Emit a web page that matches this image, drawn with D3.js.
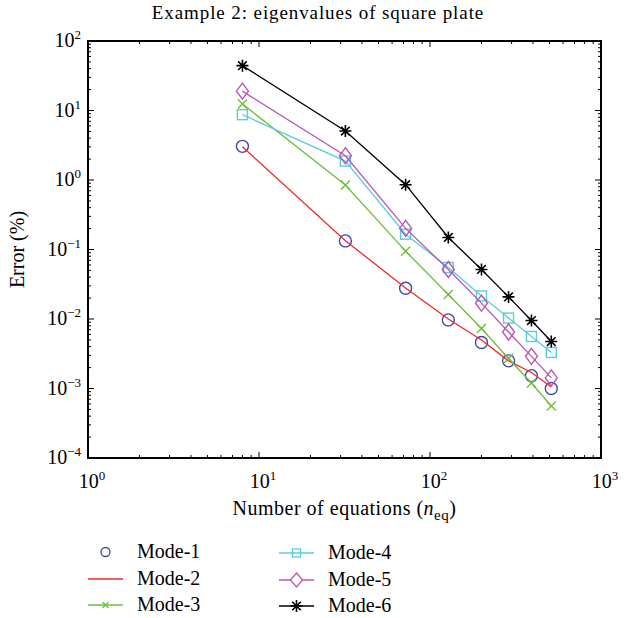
<!DOCTYPE html>
<html><head><meta charset="utf-8">
<script src="https://cdn.jsdelivr.net/npm/d3@7"></script>
<style>body{margin:0;background:#fff}</style>
</head><body>
<svg id="c" width="633" height="618"></svg>
<script>
const neq = [8, 32, 72, 128, 200, 288, 392, 512];
const mode1 = [3.05, 0.133, 0.0277, 0.0097, 0.0046, 0.0025, 0.00153, 0.00100];
const mode2 = [3.0, 0.134, 0.028, 0.0100, 0.0050, 0.0025, 0.0017, 0.00105];
const mode3 = [12.4, 0.845, 0.0946, 0.0225, 0.0073, 0.0027, 0.0012, 0.00056];
const mode4 = [8.7, 1.87, 0.166, 0.055, 0.0215, 0.0103, 0.0056, 0.0033];
const mode5 = [19.0, 2.23, 0.201, 0.0516, 0.0169, 0.0065, 0.0029, 0.00142];
const mode6 = [44.2, 5.06, 0.856, 0.149, 0.0516, 0.0208, 0.0095, 0.00474];
const xTickExp = [0, 1, 2, 3];
const yTickExp = [-4, -3, -2, -1, 0, 1, 2];
const seriesNames = ["Mode-1","Mode-2","Mode-3","Mode-4","Mode-5","Mode-6"];

const series = [
  {name: seriesNames[0], vals: mode1, color: "#3b4aa8", line: false, marker: "circle"},
  {name: seriesNames[1], vals: mode2, color: "#f02a2a", line: true, marker: null},
  {name: seriesNames[2], vals: mode3, color: "#6cbf3a", line: true, marker: "x"},
  {name: seriesNames[3], vals: mode4, color: "#5ecbdb", line: true, marker: "square"},
  {name: seriesNames[4], vals: mode5, color: "#b657b6", line: true, marker: "diamond"},
  {name: seriesNames[5], vals: mode6, color: "#000000", line: true, marker: "star"}
];

const L = 88, R = 601, T = 41, B = 458;
const svg = d3.select("#c");
const FONT = "Liberation Serif, DejaVu Serif, serif";

const x = d3.scaleLog().domain([1, 1000]).range([L, R]);
const y = d3.scaleLog().domain([1e-4, 100]).range([B, T]);

// ticks
const g = svg.append("g");
function minorList(lo, hi) {
  const out = [];
  for (let e = lo; e < hi; e++) for (let m = 2; m <= 9; m++) out.push(m * Math.pow(10, e));
  return out;
}
const xMajor = xTickExp.map(e => Math.pow(10, e));
const yMajor = yTickExp.map(e => Math.pow(10, e));
const xMinor = minorList(0, 3), yMinor = minorList(-4, 2);
const tk = g.append("g").attr("stroke", "#000").attr("stroke-width", 1);
xMajor.forEach(v => {
  tk.append("line").attr("x1", x(v)).attr("x2", x(v)).attr("y1", B).attr("y2", B - 6);
  tk.append("line").attr("x1", x(v)).attr("x2", x(v)).attr("y1", T).attr("y2", T + 6);
});
xMinor.forEach(v => {
  tk.append("line").attr("x1", x(v)).attr("x2", x(v)).attr("y1", B).attr("y2", B - 3);
  tk.append("line").attr("x1", x(v)).attr("x2", x(v)).attr("y1", T).attr("y2", T + 3);
});
yMajor.forEach(v => {
  tk.append("line").attr("y1", y(v)).attr("y2", y(v)).attr("x1", L).attr("x2", L + 6);
  tk.append("line").attr("y1", y(v)).attr("y2", y(v)).attr("x1", R).attr("x2", R - 6);
});
yMinor.forEach(v => {
  tk.append("line").attr("y1", y(v)).attr("y2", y(v)).attr("x1", L).attr("x2", L + 3);
  tk.append("line").attr("y1", y(v)).attr("y2", y(v)).attr("x1", R).attr("x2", R - 3);
});
svg.append("rect").attr("x", L).attr("y", T).attr("width", R - L).attr("height", B - T)
  .attr("fill", "none").attr("stroke", "#000").attr("stroke-width", 2);

// tick labels
function expLabel(sel, e) {
  sel.append("tspan").text("10");
  sel.append("tspan").attr("dy", -8).attr("font-size", 13).text(e < 0 ? "\u2212" + (-e) : String(e));
}
xTickExp.forEach(e => {
  const t = svg.append("text").attr("x", x(Math.pow(10, e)) + 4).attr("y", 488)
    .attr("text-anchor", "middle").attr("font-family", FONT).attr("font-size", 20);
  expLabel(t, e);
});
yTickExp.forEach(e => {
  const t = svg.append("text").attr("x", 81).attr("y", y(Math.pow(10, e)) + 6)
    .attr("text-anchor", "end").attr("font-family", FONT).attr("font-size", 20);
  expLabel(t, e);
});

// title & axis labels
svg.append("text").attr("x", 318).attr("y", 19).attr("text-anchor", "middle")
  .attr("font-family", FONT).attr("font-size", 19).attr("letter-spacing", 0.9)
  .text("Example 2: eigenvalues of square plate");
svg.append("text").attr("transform", `translate(24,${(T + B) / 2}) rotate(-90)`)
  .attr("text-anchor", "middle").attr("font-family", FONT).attr("font-size", 20).text("Error (%)");
const xl = svg.append("text").attr("x", (L + R) / 2).attr("y", 515).attr("text-anchor", "middle")
  .attr("font-family", FONT).attr("font-size", 20).attr("letter-spacing", 0.5);
xl.append("tspan").text("Number of equations (");
xl.append("tspan").attr("font-style", "italic").text("n");
xl.append("tspan").attr("dy", 5).attr("font-size", 15).text("eq");
xl.append("tspan").attr("dy", -5).text(")");

// markers
function drawMarker(sel, type, cx, cy, color) {
  if (type === "circle") {
    sel.append("circle").attr("cx", cx).attr("cy", cy).attr("r", 6)
      .attr("fill", "none").attr("stroke", color).attr("stroke-width", 1.4);
  } else if (type === "square") {
    sel.append("rect").attr("x", cx - 5).attr("y", cy - 5).attr("width", 10).attr("height", 10)
      .attr("fill", "none").attr("stroke", color).attr("stroke-width", 1.4);
  } else if (type === "diamond") {
    sel.append("path").attr("d", `M${cx},${cy - 8}L${cx + 6},${cy}L${cx},${cy + 8}L${cx - 6},${cy}Z`)
      .attr("fill", "none").attr("stroke", color).attr("stroke-width", 1.4);
  } else if (type === "x") {
    const s = 4.5;
    sel.append("path").attr("d", `M${cx - s},${cy - s}L${cx + s},${cy + s}M${cx - s},${cy + s}L${cx + s},${cy - s}`)
      .attr("stroke", color).attr("stroke-width", 1.4);
  } else if (type === "star") {
    const s = 6, d = 4.3;
    sel.append("path").attr("d", `M${cx - s},${cy}L${cx + s},${cy}M${cx},${cy - s}L${cx},${cy + s}M${cx - d},${cy - d}L${cx + d},${cy + d}M${cx - d},${cy + d}L${cx + d},${cy - d}`)
      .attr("stroke", color).attr("stroke-width", 1.6);
  }
}

const plot = svg.append("g");
const line = d3.line().x(d => x(d[0])).y(d => y(d[1]));
series.forEach(s => {
  const pts = neq.map((n, i) => [n, s.vals[i]]);
  if (s.line) plot.append("path").attr("d", line(pts)).attr("fill", "none")
    .attr("stroke", s.color).attr("stroke-width", 1.3);
  if (s.marker) pts.forEach(p => drawMarker(plot, s.marker, x(p[0]), y(p[1]), s.color));
});

// legend
const legPos = [
  {x0: 88, y: 552}, {x0: 88, y: 579}, {x0: 88, y: 605},
  {x0: 279, y: 553}, {x0: 279, y: 580}, {x0: 279, y: 606}
];
series.forEach((s, i) => {
  const p = legPos[i];
  const lg = svg.append("g");
  if (s.line) lg.append("line").attr("x1", p.x0).attr("x2", p.x0 + 35).attr("y1", p.y).attr("y2", p.y)
    .attr("stroke", s.color).attr("stroke-width", 1.5);
  if (s.marker) {
    const mtype = s.marker;
    const cx = p.x0 + 17.5;
    if (mtype === "circle") lg.append("circle").attr("cx", cx).attr("cy", p.y).attr("r", 4.5)
      .attr("fill", "none").attr("stroke", s.color).attr("stroke-width", 1.3);
    else if (mtype === "square") lg.append("rect").attr("x", cx - 4).attr("y", p.y - 4).attr("width", 8).attr("height", 8)
      .attr("fill", "none").attr("stroke", s.color).attr("stroke-width", 1.3);
    else if (mtype === "diamond") lg.append("path").attr("d", `M${cx},${p.y - 7}L${cx + 6},${p.y}L${cx},${p.y + 7}L${cx - 6},${p.y}Z`)
      .attr("fill", "#fff").attr("stroke", s.color).attr("stroke-width", 1.3);
    else if (mtype === "x") lg.append("path").attr("d", `M${cx - 3},${p.y - 3}L${cx + 3},${p.y + 3}M${cx - 3},${p.y + 3}L${cx + 3},${p.y - 3}`)
      .attr("stroke", s.color).attr("stroke-width", 1.3);
    else if (mtype === "star") drawMarker(lg, "star", cx, p.y, s.color);
  }
  lg.append("text").attr("x", p.x0 + 49).attr("y", p.y + 6).attr("font-family", FONT).attr("font-size", 20)
    .text(s.name);
});
</script>
</body></html>
